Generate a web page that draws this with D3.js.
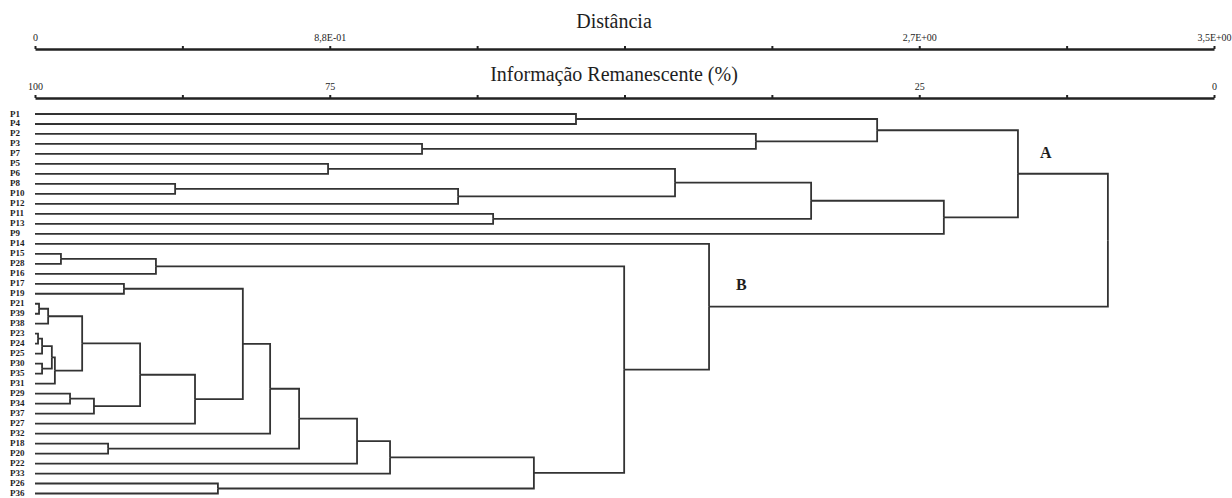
<!DOCTYPE html>
<html>
<head>
<meta charset="utf-8">
<script src="https://cdn.jsdelivr.net/npm/d3@7"></script>
<style>
  body { margin: 0; background: #fff; }
  svg { display: block; }
  text { font-family: "Liberation Serif", "Times New Roman", serif; fill: #1e1e1e; }
</style>
</head>
<body>
<div id="grafico"></div>
<script>

// folhas na ordem do dendrograma (de cima para baixo)
const folhas = ["P1","P4","P2","P3","P7","P5","P6","P8","P10","P12","P11","P13","P9",
    "P14","P15","P28","P16","P17","P19","P21","P39","P38","P23","P24","P25","P30","P35","P31",
    "P29","P34","P37","P27","P32","P18","P20","P22","P33","P26","P36"];

// fusoes: [no, filho esquerdo, filho direito, distancia]
const fusoes = [
    ["a1", "P1", "P4", 1.606],
    ["a2", "P3", "P7", 1.149],
    ["a3", "P2", "a2", 2.140],
    ["a4", "a1", "a3", 2.500],
    ["a5", "P5", "P6", 0.870],
    ["a6", "P8", "P10", 0.416],
    ["a7", "a6", "P12", 1.256],
    ["a8", "a5", "a7", 1.900],
    ["a9", "P11", "P13", 1.360],
    ["a10", "a8", "a9", 2.304],
    ["a11", "a10", "P9", 2.698],
    ["A", "a4", "a11", 2.918],
    ["b1", "P15", "P28", 0.077],
    ["b2", "b1", "P16", 0.359],
    ["b3", "P17", "P19", 0.264],
    ["b4", "P21", "P39", 0.012],
    ["b5", "b4", "P38", 0.039],
    ["b6", "P23", "P24", 0.009],
    ["b7", "b6", "P25", 0.021],
    ["b8", "P30", "P35", 0.021],
    ["b9", "b7", "b8", 0.050],
    ["b10", "b9", "P31", 0.059],
    ["b11", "b5", "b10", 0.140],
    ["b12", "P29", "P34", 0.104],
    ["b13", "b12", "P37", 0.175],
    ["b14", "b11", "b13", 0.312],
    ["b15", "b14", "P27", 0.475],
    ["b16", "b3", "b15", 0.617],
    ["b17", "b16", "P32", 0.698],
    ["b18", "P18", "P20", 0.217],
    ["b19", "b17", "b18", 0.784],
    ["b20", "b19", "P22", 0.956],
    ["b21", "b20", "P33", 1.054],
    ["b22", "P26", "P36", 0.543],
    ["b23", "b21", "b22", 1.481],
    ["b24", "b2", "b23", 1.749],
    ["B", "P14", "b24", 2.001],
    ["raiz", "A", "B", 3.185]
];

// eixos
const distanciaMax = 3.5;
const ticksDistancia = ["0", "", "8,8E-01", "", "", "", "2,7E+00", "", "3,5E+00"];
const ticksInformacao = ["100", "", "75", "", "", "", "25", "", "0"];
const rotulosGrupos = ["A", "B"];

const largura = 1232, altura = 498;
const x0 = 35, x1 = 1214;

const svg = d3.select("#grafico").append("svg")
    .attr("width", largura)
    .attr("height", altura);

const x = d3.scaleLinear().domain([0, distanciaMax]).range([x0, x1]);
const y = d3.scalePoint().domain(folhas).range([114, 493.5]);

// montar a arvore a partir da tabela de fusoes
const nos = {};
folhas.forEach(f => nos[f] = {nome: f, dist: 0});
fusoes.forEach(([nome, e, d, dist]) => {
    nos[nome] = {nome: nome, dist: dist, filhos: [nos[e], nos[d]]};
});
const raiz = d3.hierarchy(nos["raiz"], d => d.filhos);

raiz.eachAfter(n => {
    n.py = n.children ? d3.mean(n.children, c => c.py) : y(n.data.nome);
    n.px = x(n.data.dist);
});

// ramos
const ramos = [];
raiz.each(n => {
    if (n.children) n.children.forEach(c => ramos.push({pai: n, filho: c}));
});

svg.append("g")
    .selectAll("path")
    .data(ramos)
    .enter().append("path")
        .attr("d", d => `M${d.filho.px},${d.filho.py}H${d.pai.px}V${d.pai.py}`)
        .attr("fill", "none")
        .attr("stroke", "#333")
        .attr("stroke-width", 1.8);

// rotulos das folhas
svg.append("g")
    .selectAll("text")
    .data(raiz.leaves())
    .enter().append("text")
        .attr("x", 10)
        .attr("y", d => d.py + 2.5)
        .attr("font-size", 9)
        .attr("font-weight", "bold")
        .text(d => d.data.nome);

// rotulos dos grupos
const posGrupo = {A: [1040, 158], B: [736, 290]};
svg.append("g")
    .selectAll("text")
    .data(rotulosGrupos)
    .enter().append("text")
        .attr("x", d => posGrupo[d][0])
        .attr("y", d => posGrupo[d][1])
        .attr("font-size", 16)
        .attr("font-weight", "bold")
        .text(d => d);

// eixos superiores
const valoresTick = d3.range(ticksDistancia.length).map(i => i * distanciaMax / (ticksDistancia.length - 1));

function desenharEixo(yEixo, rotulos, titulo, yTitulo){
    const g = svg.append("g").attr("transform", `translate(0,${yEixo})`);
    g.call(d3.axisTop(x)
        .tickValues(valoresTick)
        .tickFormat((d, i) => rotulos[i])
        .tickSizeInner(3)
        .tickSizeOuter(0)
        .tickPadding(5));
    g.select(".domain").attr("stroke", "#222").attr("stroke-width", 2.4);
    g.selectAll(".tick line").attr("stroke", "#222").attr("stroke-width", 2);
    g.selectAll(".tick text")
        .attr("font-family", "'Liberation Serif', serif")
        .attr("font-size", 10)
        .attr("fill", "#111");

    svg.append("text")
        .attr("x", 614)
        .attr("y", yTitulo)
        .attr("text-anchor", "middle")
        .attr("font-size", 20)
        .text(titulo);
}

desenharEixo(49, ticksDistancia, "Distância", 28);
desenharEixo(98, ticksInformacao, "Informação Remanescente (%)", 81);

</script>
</body>
</html>
